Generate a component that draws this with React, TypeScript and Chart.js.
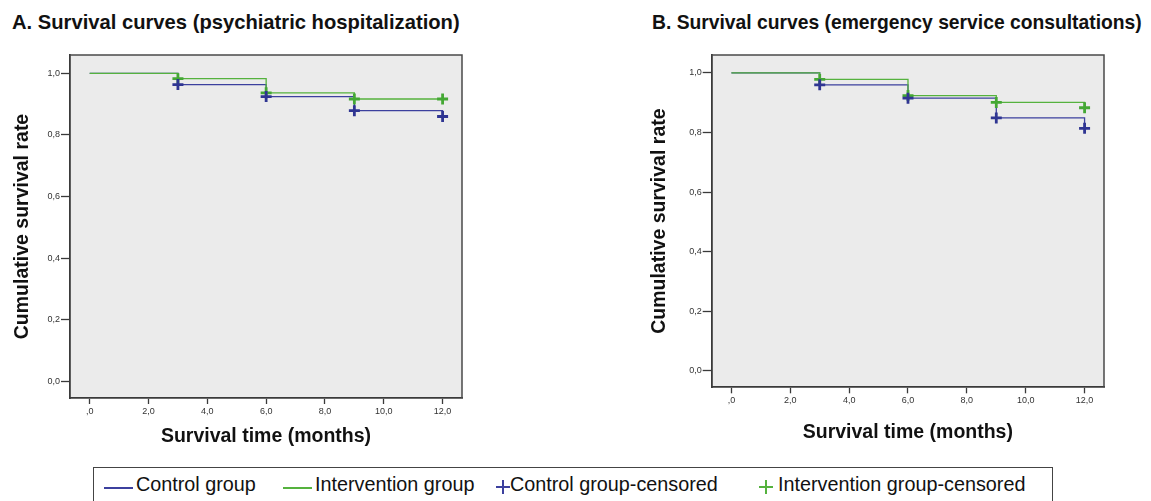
import React, { useEffect, useRef } from "react";
import { Chart, registerables } from "chart.js";

Chart.register(...registerables);

// ---------- data ----------
const months = [0, 3, 6, 9, 12];
const censorMonths = [3, 6, 9, 12];

const xTickValues = [0, 2, 4, 6, 8, 10, 12];
const xTickLabels = [",0", "2,0", "4,0", "6,0", "8,0", "10,0", "12,0"];
const yTickValues = [0, 0.2, 0.4, 0.6, 0.8, 1.0];
const yTickLabels = ["0,0", "0,2", "0,4", "0,6", "0,8", "1,0"];

// A. psychiatric hospitalization
const hospControl = [1, 0.964, 0.925, 0.879, 0.86];
const hospIntervention = [1, 0.983, 0.937, 0.917, 0.917];
const hospControlCensored = [0.964, 0.925, 0.879, 0.86];
const hospInterventionCensored = [0.983, 0.937, 0.917, 0.917];

// B. emergency service consultations
const emergControl = [1, 0.96, 0.915, 0.849, 0.814];
const emergIntervention = [1, 0.978, 0.924, 0.901, 0.883];
const emergControlCensored = [0.96, 0.915, 0.849, 0.814];
const emergInterventionCensored = [0.978, 0.924, 0.901, 0.883];

const titleA = "A. Survival curves (psychiatric hospitalization)";
const titleB = "B. Survival curves (emergency service consultations)";
const xTitle = "Survival time (months)";
const yTitle = "Cumulative survival rate";
const legendLabels = [
  "Control group",
  "Intervention group",
  "Control group-censored",
  "Intervention group-censored",
];

// ---------- styles ----------
const FONT = "'Liberation Sans', Arial, Helvetica, sans-serif";
const BLUE = "#3c409e";
const GREEN = "#55b23e";
const BLUE_MARK = "#2f3592";
const GREEN_MARK = "#44a834";
const PLOT_BG = "#ebebeb";
const AXIS = "#3a3a3a";

const X_MIN = -0.67;
const X_MAX = 12.66;
const Y_MIN = -0.055;
const Y_MAX = 1.06;

const framePlugin = {
  id: "frame",
  beforeDraw(chart: any) {
    const { ctx, chartArea } = chart;
    const { left, top, right, bottom } = chartArea;
    ctx.save();
    ctx.fillStyle = PLOT_BG;
    ctx.fillRect(left, top, right - left, bottom - top);
    ctx.restore();
  },
  afterDraw(chart: any) {
    const { ctx, chartArea } = chart;
    const { left, top, right, bottom } = chartArea;
    ctx.save();
    ctx.strokeStyle = "#4a4a4a";
    ctx.lineWidth = 1.5;
    ctx.beginPath();
    ctx.moveTo(left, top);
    ctx.lineTo(right, top);
    ctx.lineTo(right, bottom);
    ctx.stroke();
    ctx.restore();
  },
};

type Series = {
  control: number[];
  intervention: number[];
  controlCensored: number[];
  interventionCensored: number[];
};

type Geo = {
  top: number;
  right: number;
  yWidth: number;
  xHeight: number;
  yTitlePad: number;
  xTitlePad: number;
};

const pts = (xs: number[], ys: number[]) => xs.map((x, i) => ({ x, y: ys[i] }));

function buildChart(canvas: HTMLCanvasElement, s: Series, g: Geo) {
  const censorStyle = (c: string) => ({
    showLine: false,
    pointStyle: "cross",
    pointRadius: 5.5,
    pointBorderWidth: 2.8,
    pointBorderColor: c,
    borderColor: c,
    backgroundColor: c,
    order: 0,
  });
  return new Chart(canvas, {
    type: "line",
    data: {
      datasets: [
        {
          label: legendLabels[2],
          data: pts(censorMonths, s.controlCensored),
          ...censorStyle(BLUE_MARK),
        },
        {
          label: legendLabels[3],
          data: pts(censorMonths, s.interventionCensored),
          ...censorStyle(GREEN_MARK),
        },
        {
          label: legendLabels[1],
          data: pts(months, s.intervention),
          stepped: "before",
          borderColor: GREEN,
          borderWidth: 1.3,
          pointRadius: 0,
          fill: false,
          order: 1,
        },
        {
          label: legendLabels[0],
          data: pts(months, s.control),
          stepped: "before",
          borderColor: BLUE,
          borderWidth: 1.3,
          pointRadius: 0,
          fill: false,
          order: 2,
        },
      ],
    } as any,
    options: {
      responsive: false,
      animation: false,
      events: [],
      layout: { padding: { top: g.top, right: g.right, left: 0, bottom: 0 } },
      plugins: {
        legend: { display: false },
        tooltip: { enabled: false },
        title: { display: false },
      },
      scales: {
        x: {
          type: "linear",
          min: X_MIN,
          max: X_MAX,
          afterBuildTicks: (sc: any) => {
            sc.ticks = xTickValues.map((v) => ({ value: v }));
          },
          afterFit: (sc: any) => {
            sc.height = g.xHeight;
          },
          ticks: {
            autoSkip: false,
            maxRotation: 0,
            padding: 2,
            color: "#333",
            font: { family: FONT, size: 9 },
            callback: (_v: any, i: number) => xTickLabels[i],
          },
          grid: {
            drawOnChartArea: false,
            drawTicks: true,
            tickLength: 6,
            tickWidth: 1.3,
            tickColor: AXIS,
          },
          border: { display: true, color: AXIS, width: 1.8 },
          title: {
            display: true,
            text: xTitle,
            color: "#111",
            font: { family: FONT, size: 19.5, weight: "bold" },
            padding: { top: 0, bottom: g.xTitlePad },
          },
        },
        y: {
          type: "linear",
          min: Y_MIN,
          max: Y_MAX,
          afterBuildTicks: (sc: any) => {
            sc.ticks = yTickValues.map((v) => ({ value: v }));
          },
          afterFit: (sc: any) => {
            sc.width = g.yWidth;
          },
          ticks: {
            autoSkip: false,
            padding: 1,
            color: "#333",
            font: { family: FONT, size: 9 },
            callback: (_v: any, i: number) => yTickLabels[i],
          },
          grid: {
            drawOnChartArea: false,
            drawTicks: true,
            tickLength: 9,
            tickWidth: 1.3,
            tickColor: AXIS,
          },
          border: { display: true, color: AXIS, width: 1.8 },
          title: {
            display: true,
            text: yTitle,
            color: "#111",
            font: { family: FONT, size: 19.5, weight: "bold" },
            padding: { top: g.yTitlePad, bottom: 0 },
          },
        },
      },
    } as any,
    plugins: [framePlugin],
  });
}

function Panel(props: { left: number; series: Series; geo: Geo }) {
  const ref = useRef<HTMLCanvasElement | null>(null);
  useEffect(() => {
    if (!ref.current) return;
    const chart = buildChart(ref.current, props.series, props.geo);
    return () => chart.destroy();
  }, []);
  return (
    <canvas
      ref={ref}
      width={480}
      height={460}
      style={{ position: "absolute", left: props.left, top: 0, width: 480, height: 460 }}
    />
  );
}

function LineSwatch({ left, color }: { left: number; color: string }) {
  return (
    <div
      style={{
        position: "absolute",
        left,
        top: 19,
        width: 29,
        height: 2,
        background: color,
      }}
    />
  );
}

function CrossSwatch({ cx, color }: { cx: number; color: string }) {
  return (
    <div style={{ position: "absolute", left: cx - 7, top: 12, width: 14, height: 14 }}>
      <div style={{ position: "absolute", left: 0, top: 6, width: 14, height: 2, background: color }} />
      <div style={{ position: "absolute", left: 6, top: 0, width: 2, height: 14, background: color }} />
    </div>
  );
}

function LegendText({ left, text }: { left: number; text: string }) {
  return (
    <div
      style={{
        position: "absolute",
        left,
        top: 7,
        fontSize: 19.8,
        lineHeight: "19.8px",
        color: "#111",
        whiteSpace: "nowrap",
      }}
    >
      {text}
    </div>
  );
}

export default function App() {
  const geoA: Geo = { top: 55, right: 18, yWidth: 70, xHeight: 62, yTitlePad: 10.8, xTitlePad: 11.3 };
  const geoB: Geo = { top: 55, right: 16, yWidth: 71.7, xHeight: 72.7, yTitlePad: 8.3, xTitlePad: 15.3 };
  const seriesA: Series = {
    control: hospControl,
    intervention: hospIntervention,
    controlCensored: hospControlCensored,
    interventionCensored: hospInterventionCensored,
  };
  const seriesB: Series = {
    control: emergControl,
    intervention: emergIntervention,
    controlCensored: emergControlCensored,
    interventionCensored: emergInterventionCensored,
  };
  const LX = 93; // legend box left
  return (
    <div
      style={{
        position: "absolute",
        left: 0,
        top: 0,
        width: 1151,
        height: 501,
        overflow: "hidden",
        background: "#fff",
        fontFamily: FONT,
      }}
    >
      <div
        style={{
          position: "absolute",
          left: 12,
          top: 12,
          fontSize: 20.2,
          lineHeight: "20px",
          fontWeight: "bold",
          color: "#111",
          whiteSpace: "nowrap",
        }}
      >
        {titleA}
      </div>
      <div
        style={{
          position: "absolute",
          left: 652,
          top: 13,
          fontSize: 19.3,
          lineHeight: "20px",
          fontWeight: "bold",
          color: "#111",
          whiteSpace: "nowrap",
        }}
      >
        {titleB}
      </div>
      <Panel left={0} series={seriesA} geo={geoA} />
      <Panel left={640} series={seriesB} geo={geoB} />
      <div
        style={{
          position: "absolute",
          left: LX,
          top: 467,
          width: 960,
          height: 44,
          border: "1px solid #444",
          boxSizing: "border-box",
        }}
      >
        <LineSwatch left={103 - LX} color={BLUE} />
        <LegendText left={135 - LX} text={legendLabels[0]} />
        <LineSwatch left={282 - LX} color={GREEN} />
        <LegendText left={314 - LX} text={legendLabels[1]} />
        <CrossSwatch cx={502 - LX} color={BLUE} />
        <LegendText left={509 - LX} text={legendLabels[2]} />
        <CrossSwatch cx={765 - LX} color={GREEN} />
        <LegendText left={777 - LX} text={legendLabels[3]} />
      </div>
    </div>
  );
}
